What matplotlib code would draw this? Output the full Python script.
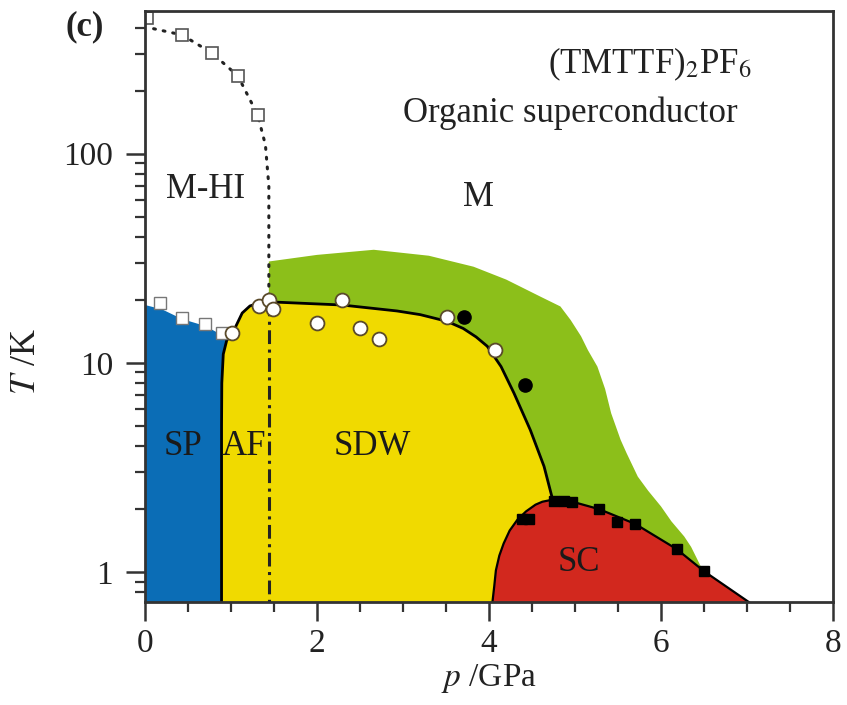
import matplotlib
matplotlib.use("Agg")
import matplotlib.pyplot as plt
from matplotlib.ticker import MultipleLocator, NullFormatter, FixedLocator, LogLocator

plt.rcParams['font.family'] = ['Liberation Serif', 'DejaVu Serif']
plt.rcParams['mathtext.fontset'] = 'stix'

# ---- data (p in GPa, T in K) ----
# high-temperature M-HI crossover (open squares + dotted line)
hi_sq_p = [0.02, 0.43, 0.78, 1.08, 1.31]
hi_sq_T = [445, 369, 302, 235, 153]
hi_line_p = [0.10, 0.43, 0.78, 1.08, 1.31, 1.40, 1.44, 1.44]
hi_line_T = [395, 369, 302, 235, 153, 110, 70, 20]

# SP transition (open squares)
sp_sq_p = [0.18, 0.43, 0.70, 0.90]
sp_sq_T = [19.4, 16.4, 15.4, 13.9]

# open circles
oc_p = [1.01, 1.32, 1.44, 1.49, 2.00, 2.29, 2.50, 2.72, 3.51, 4.07]
oc_T = [13.9, 18.6, 20.0, 18.1, 15.5, 19.9, 14.6, 13.0, 16.6, 11.5]

# filled circles
fc_p = [3.71, 4.42]
fc_T = [16.6, 7.85]

# filled squares (SC)
fs_p = [4.38, 4.46, 4.75, 4.87, 4.97, 5.28, 5.49, 5.70, 6.18, 6.50]
fs_T = [1.80, 1.80, 2.19, 2.18, 2.16, 2.00, 1.73, 1.70, 1.29, 1.01]

# phase boundaries
sp_bnd_p = [0.0, 0.0, 0.20, 0.43, 0.70, 0.95, 0.95, 0.91, 0.893, 0.89, 0.89]
sp_bnd_T = [0.72, 18.9, 18.0, 16.2, 15.0, 13.2, 12.8, 11.0, 8.0, 5.0, 0.72]

sdw_bnd_p = [0.89, 0.89, 0.893, 0.91, 0.95, 1.03, 1.13, 1.22, 1.32, 1.53, 2.29,
             2.93, 3.20, 3.51, 3.70, 3.85, 3.98, 4.14, 4.29, 4.48, 4.64, 4.74]
sdw_bnd_T = [0.72, 5.0, 8.0, 11.0, 12.8, 14.2, 17.3, 18.7, 19.3, 19.5, 18.9,
             17.7, 17.0, 15.8, 14.6, 13.3, 12.0, 9.6, 7.17, 4.78, 3.2, 2.22]

sc_bnd_p = [4.04, 4.06, 4.08, 4.12, 4.17, 4.24, 4.33, 4.43, 4.54, 4.62, 4.74,
            4.97, 5.28, 5.70, 6.18, 6.50, 7.02]
sc_bnd_T = [0.72, 0.85, 1.02, 1.20, 1.37, 1.58, 1.78, 1.95, 2.10, 2.17, 2.22,
            2.17, 2.00, 1.70, 1.29, 1.01, 0.72]

m_bnd_p = [1.44, 2.0, 2.66, 3.3, 3.82, 4.2, 4.60, 4.83, 4.95, 5.07, 5.15, 5.26,
           5.35, 5.42, 5.53, 5.60, 5.73, 5.85, 6.00, 6.12, 6.27, 6.35, 6.48]
m_bnd_T = [30.5, 32.8, 34.7, 32.5, 28.8, 25.0, 20.7, 18.6, 16.0, 13.4, 11.5, 9.6,
           7.5, 5.75, 4.29, 3.7, 2.86, 2.45, 2.06, 1.75, 1.48, 1.32, 1.03]

# ---- figure ----
fig = plt.figure(figsize=(8.47, 7.05), dpi=100)
ax = fig.add_axes([0.1712, 0.1461, 0.8123, 0.8383])
ax.set_yscale('log')
ax.set_xlim(0, 8)
ax.set_ylim(0.72, 480)

blue = '#0b6db6'
yellow = '#f0da00'
green = '#8cbf1a'
red = '#d2281e'

# green metal region (drawn beneath yellow / red)
g_p = m_bnd_p + [4.74, 1.44]
g_T = m_bnd_T + [2.22, 10.0]
ax.fill(g_p, g_T, color=green, lw=0, zorder=1)

# yellow SDW/AF region
n_left = sc_bnd_p.index(4.74)
y_p = sdw_bnd_p + sc_bnd_p[n_left::-1]
y_T = sdw_bnd_T + sc_bnd_T[n_left::-1]
ax.fill(y_p, y_T, color=yellow, lw=0, zorder=2)

# blue SP region
ax.fill(sp_bnd_p, sp_bnd_T, color=blue, lw=0, zorder=2)

# red SC region
ax.fill(sc_bnd_p, sc_bnd_T, color=red, lw=0, zorder=3)

# boundary lines
ax.plot(sdw_bnd_p, sdw_bnd_T, color='black', lw=2.0, zorder=4)
ax.plot(sc_bnd_p, sc_bnd_T, color='black', lw=1.6, zorder=4)

# dotted high-T line and dash-dot vertical line
ax.plot(hi_line_p, hi_line_T, color='#222222', lw=2.2, ls=(0, (0.6, 2.6)),
        dash_capstyle='round', zorder=4)
ax.plot([1.44, 1.44], [19.5, 0.72], color='#222222', lw=2.2,
        ls=(0, (4.5, 1.8, 1.0, 1.8)), zorder=4)

# markers
ax.plot(hi_sq_p, hi_sq_T, ls='none', marker='s', ms=8, mfc='white',
        mec='#555555', mew=1.2, zorder=5)
ax.plot(sp_sq_p, sp_sq_T, ls='none', marker='s', ms=8, mfc='white',
        mec='#777777', mew=1.0, zorder=5)
ax.plot(oc_p, oc_T, ls='none', marker='o', ms=10, mfc='white',
        mec='#5a4a2a', mew=1.3, zorder=5)
ax.plot(fc_p, fc_T, ls='none', marker='o', ms=9.5, mfc='black',
        mec='black', zorder=5)
ax.plot(fs_p, fs_T, ls='none', marker='s', ms=7.5, mfc='black',
        mec='black', zorder=5)

# region labels
fs = 25
ax.text(0.70, 67, 'M-HI', fontsize=fs, ha='center', va='center', color='#222222')
ax.text(3.88, 62, 'M', fontsize=fs, ha='center', va='center', color='#222222')
ax.text(0.44, 3.97, 'SP', fontsize=fs, ha='center', va='center', color='#1a1a1a', zorder=6)
ax.text(1.15, 3.97, 'AF', fontsize=fs, ha='center', va='center', color='#1a1a1a', zorder=6)
ax.text(2.64, 3.97, 'SDW', fontsize=fs, ha='center', va='center', color='#1a1a1a', zorder=6)
ax.text(5.04, 1.11, 'SC', fontsize=fs, ha='center', va='center', color='#1a1a1a', zorder=6)

ax.text(0.586, 0.909, r'(TMTTF)$_2$PF$_6$', transform=ax.transAxes,
        fontsize=fs, ha='left', va='center', color='#222222')
ax.text(0.375, 0.827, 'Organic superconductor', transform=ax.transAxes,
        fontsize=fs, ha='left', va='center', color='#222222')
fig.text(0.100, 0.962, '(c)', fontsize=25, fontweight='bold', ha='center',
         va='center', color='#222222')

# axes styling
for s in ax.spines.values():
    s.set_linewidth(2.0)
    s.set_color('#333333')
    s.set_zorder(7)

ax.xaxis.set_major_locator(FixedLocator([0, 2, 4, 6, 8]))
ax.xaxis.set_minor_locator(MultipleLocator(0.5))
ax.yaxis.set_major_locator(FixedLocator([1, 10, 100]))
ax.yaxis.set_minor_locator(LogLocator(base=10, subs=[2, 3, 4, 5, 6, 7, 8, 9]))
ax.yaxis.set_minor_formatter(NullFormatter())
ax.set_yticklabels(['1', '10', '100'])
ax.set_xticklabels(['0', '2', '4', '6', '8'])

ax.tick_params(which='major', direction='out', length=14, width=1.8,
               color='#333333', labelsize=24, labelcolor='#222222')
ax.tick_params(which='minor', direction='out', length=7, width=1.6,
               color='#333333')
ax.tick_params(axis='y', which='major', pad=9)
ax.tick_params(axis='x', which='major', pad=5)
ax.tick_params(top=False, right=False, which='both')

ax.set_xlabel(r'$p$ /GPa', fontsize=24, color='#222222', labelpad=2)
ax.set_ylabel(r'$T$ /K', fontsize=26, color='#222222')
ax.yaxis.set_label_coords(-0.148, 0.406)

fig.savefig('out.png', dpi=100)
